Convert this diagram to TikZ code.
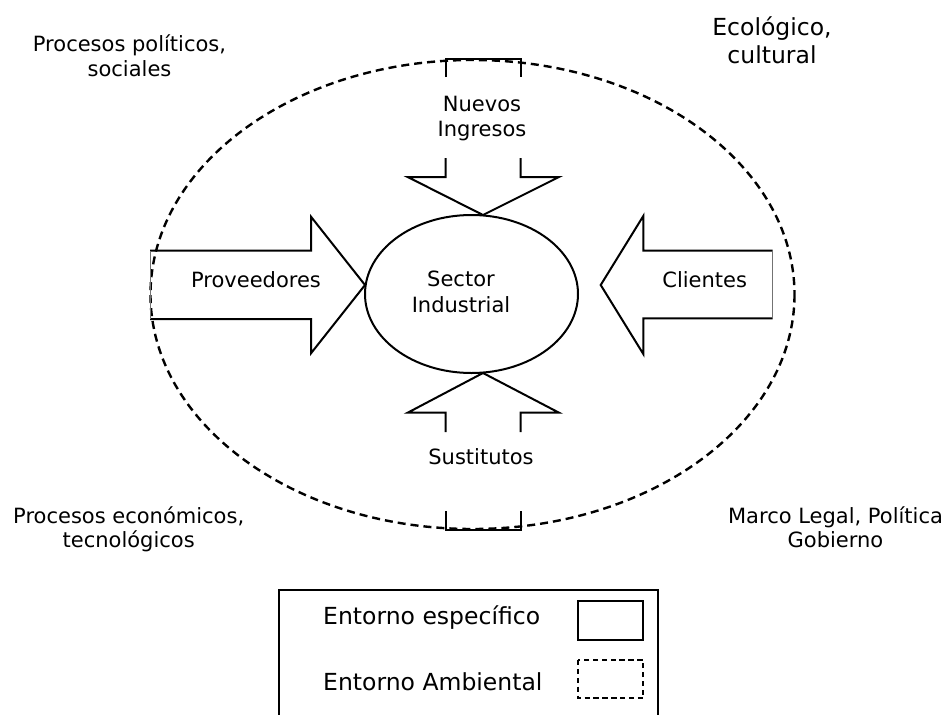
\documentclass[tikz,border=0pt]{standalone}
\usepackage{fontspec}
\setmainfont{DejaVu Sans}
\usetikzlibrary{shapes.geometric}

% two centred lines; the node's baseline is that of the first line
\newcommand\twoln[2]{\begin{tabular}[t]{@{}c@{}}#1\\#2\end{tabular}}

\tikzset{
  lbl/.style={anchor=base, inner sep=0pt, font=\fontsize{21}{24.5}\selectfont},
  biglbl/.style={lbl, font=\fontsize{23.5}{28.3}\selectfont},
  shape line/.style={line width=2pt, line join=miter, black},
  thin end/.style={line width=1pt, black!55},
  env line/.style={line width=2.4pt, dash pattern=on 8pt off 5pt},
  key box/.style={line width=1.8pt},
}

\begin{document}
\begin{tikzpicture}[x=1pt, y=-1pt]
  \useasboundingbox (0,0) rectangle (948,715);
  \fill[white] (0,0) rectangle (948,715);

  % general environment
  \draw[env line] (472.5,294.5) ellipse [x radius=322, y radius=234.5];

  % industrial sector
  \node[draw, ellipse, line width=2pt, minimum width=213pt, minimum height=158pt, inner sep=0pt]
    (sector) at (471.5,294) {};
  \node[lbl, font=\fontsize{21}{26.7}\selectfont] (sectorlbl) at (461,286) {\twoln{Sector}{Industrial}};

  % suppliers (arrow pointing right)
  \draw[shape line] (150,250.7) -- (311,250.7) -- (311,216.7) -- (365,285)
    -- (311,353.3) -- (311,319) -- (150,319);
  \draw[thin end] (150,250.7) -- (150,319);
  \node[lbl] (prov) at (256,287.3) {Proveedores};

  % customers (arrow pointing left)
  \draw[shape line] (772.7,250.7) -- (643.3,250.7) -- (643.3,216) -- (600.7,285)
    -- (643.3,354) -- (643.3,318.3) -- (772.7,318.3);
  \draw[thin end] (772.7,250.7) -- (772.7,318.3);
  \node[lbl] (clientes) at (704.7,287.3) {Clientes};

  % new entrants (arrow pointing down)
  \draw[shape line] (445.7,77) -- (445.7,59.3) -- (520.7,59.3) -- (520.7,77);
  \draw[shape line] (445.7,158) -- (445.7,177) -- (407.7,177) -- (483,215)
    -- (559,177) -- (520.7,177) -- (520.7,158);
  \node[lbl, font=\fontsize{21}{24.3}\selectfont] (nuevos) at (482,111.7) {\twoln{Nuevos}{Ingresos}};

  % substitutes (arrow pointing up)
  \draw[shape line] (445.7,432) -- (445.7,412.7) -- (407.7,412.7) -- (483,373)
    -- (559,412.7) -- (520.7,412.7) -- (520.7,432);
  \draw[shape line] (445.7,511) -- (445.7,530) -- (520.7,530) -- (520.7,511);
  \node[lbl] (sustit) at (481,464) {Sustitutos};

  % environmental factors
  \node[lbl, font=\fontsize{21}{24.3}\selectfont] (polsoc) at (129.5,51.7) {\twoln{Procesos políticos,}{sociales}};
  \node[biglbl] (ecocult) at (772,35) {\twoln{Ecológico,}{cultural}};
  \node[lbl] (econtec) at (128.7,523.3) {\twoln{Procesos económicos,}{tecnológicos}};
  \node[lbl] (marco) at (835.5,523.3) {\twoln{Marco Legal, Política}{Gobierno}};

  % key
  \draw[key box] (279.3,715) -- (279.3,590) -- (658,590) -- (658,715);
  \node[biglbl, anchor=base west] (keyspec) at (323,624.3) {Entorno específico};
  \node[biglbl, anchor=base west] (keyamb) at (323,690) {Entorno Ambiental};
  \draw[key box] (578.3,600.7) rectangle (643.3,640);
  \draw[key box, dash pattern=on 5.3pt off 3.6pt] (578.3,660) rectangle (643.3,698.3);
\end{tikzpicture}
\end{document}
